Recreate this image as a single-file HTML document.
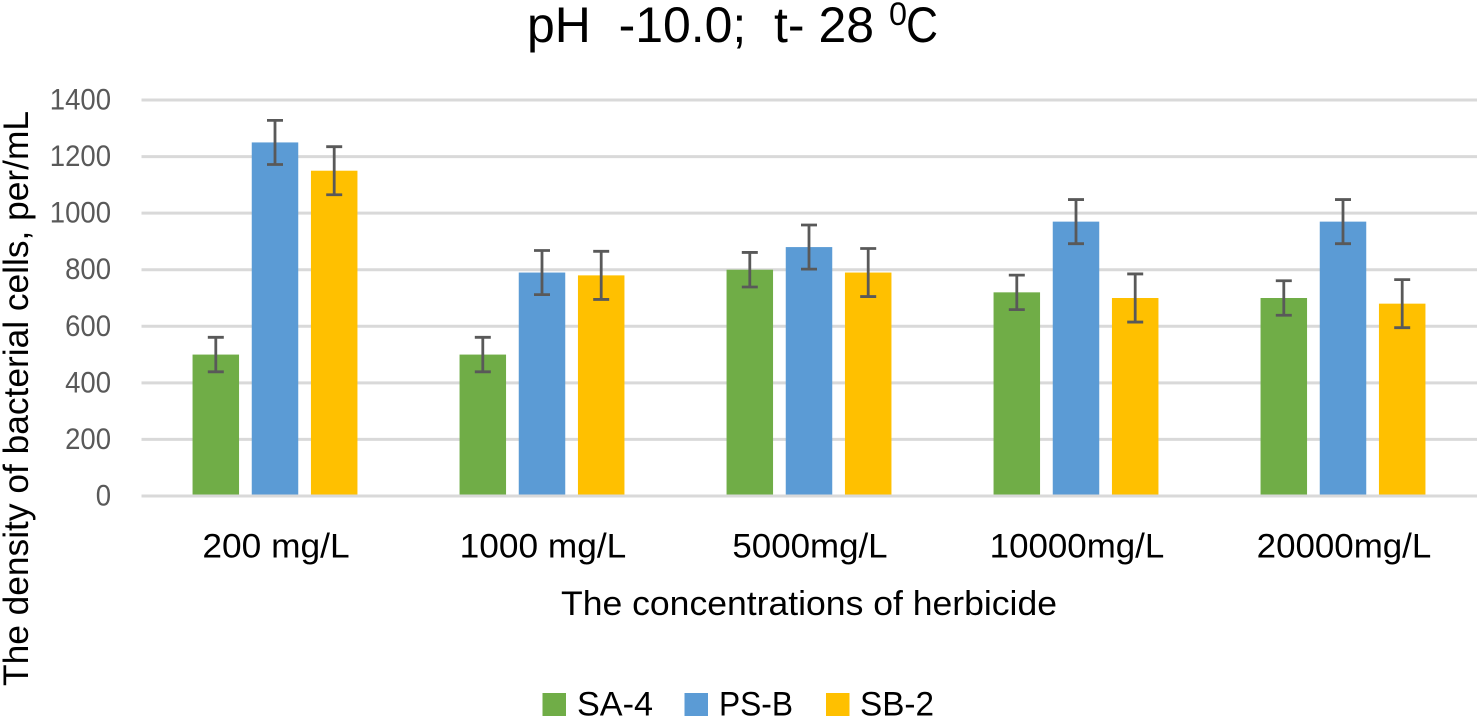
<!DOCTYPE html>
<html>
<head>
<meta charset="utf-8">
<style>
html,body{margin:0;padding:0;background:#fff;width:1479px;height:717px;overflow:hidden}
svg{display:block}
text{font-family:"Liberation Sans",sans-serif;white-space:pre}
</style>
</head>
<body>
<svg id="chart" xmlns="http://www.w3.org/2000/svg" width="1479" height="717" viewBox="0 0 1479 717">
<g id="grid"></g>
<g id="ticks"></g>
<g id="bars"></g>
<g id="errs"></g>
<g id="cats"></g>
<text x="527" y="42" font-size="50" fill="#000" textLength="347" lengthAdjust="spacingAndGlyphs">pH  -10.0;  t- 28</text>
<text x="889" y="25" font-size="32" fill="#000" textLength="18" lengthAdjust="spacingAndGlyphs">0</text>
<text x="906" y="42" font-size="50" fill="#000" textLength="32" lengthAdjust="spacingAndGlyphs">C</text>
<text x="561" y="615" font-size="34" fill="#000" textLength="496" lengthAdjust="spacingAndGlyphs">The concentrations of herbicide</text>
<text transform="translate(28,686) rotate(-90)" x="0" y="0" font-size="35" fill="#000" textLength="575" lengthAdjust="spacingAndGlyphs">The density of bacterial cells, per/mL</text>
<g>
<g>
<rect x="542.5" y="693" width="23.5" height="23" fill="#70AD47"/>
<text x="577" y="715.5" font-size="34" fill="#000" textLength="76" lengthAdjust="spacingAndGlyphs">SA-4</text>
</g>
<g>
<rect x="684.5" y="693" width="23.5" height="23" fill="#5B9BD5"/>
<text x="719" y="715.5" font-size="34" fill="#000" textLength="74" lengthAdjust="spacingAndGlyphs">PS-B</text>
</g>
<g>
<rect x="826" y="693" width="23.5" height="23" fill="#FFC000"/>
<text x="860" y="715.5" font-size="34" fill="#000" textLength="74" lengthAdjust="spacingAndGlyphs">SB-2</text>
</g>
</g>
</svg>
<script>
const categories = ["200 mg/L", "1000 mg/L", "5000mg/L", "10000mg/L", "20000mg/L"];
const seriesNames = ["SA-4", "PS-B", "SB-2"];
const sa4Values = [500, 500, 800, 720, 700];
const psbValues = [1250, 790, 880, 970, 970];
const sb2Values = [1150, 780, 790, 700, 680];
const sa4Errors = [61, 61, 61, 61, 61];
const psbErrors = [78, 78, 78, 78, 78];
const sb2Errors = [85, 85, 85, 85, 85];
const yTicks = [0, 200, 400, 600, 800, 1000, 1200, 1400];

const NS = "http://www.w3.org/2000/svg";
const seriesValues = [sa4Values, psbValues, sb2Values];
const seriesErrors = [sa4Errors, psbErrors, sb2Errors];
const seriesColors = ["#70AD47", "#5B9BD5", "#FFC000"];
const yMax = yTicks[yTicks.length - 1];
const plot = { left: 141.5, right: 1477, top: 100, bottom: 496, firstCenter: 275, step: 267 };
const barW = 46.5, barGap = 59.2, capW = 16;
function yScale(v) { return plot.bottom - (v / yMax) * (plot.bottom - plot.top); }
function xScale(i) { return plot.firstCenter + i * plot.step; }
function make(tag, attrs, parent) {
  const el = document.createElementNS(NS, tag);
  for (const k in attrs) el.setAttribute(k, attrs[k]);
  parent.appendChild(el);
  return el;
}
const gGrid = document.getElementById("grid");
const gTicks = document.getElementById("ticks");
const gBars = document.getElementById("bars");
const gErrs = document.getElementById("errs");
const gCats = document.getElementById("cats");

yTicks.forEach(function (t) {
  const line = make("line", { x1: plot.left, x2: plot.right, y1: yScale(t), y2: yScale(t), stroke: "#D9D9D9", "stroke-width": 3 }, gGrid);
  
  
  const label = make("text", { x: 111, y: yScale(t) + 9.5, "text-anchor": "end", "font-size": 30, fill: "#595959", textLength: 15.3 * String(t).length, lengthAdjust: "spacingAndGlyphs" }, gTicks);
  
  
  label.textContent = String(t);
});

seriesValues.forEach(function (vals, s) {
  vals.forEach(function (v, i) {
    const cx = xScale(i) + (s - 1) * barGap;
    const bar = make("rect", { x: cx - barW / 2, y: yScale(v), width: barW, height: plot.bottom - 1.5 - yScale(v), fill: seriesColors[s] }, gBars);
    
    
    const e = seriesErrors[s][i];
    const hi = yScale(v + e), lo = yScale(v - e);
    const err = make("path", {
      d: "M" + (cx - capW / 2) + " " + hi + "H" + (cx + capW / 2) + "M" + cx + " " + hi + "V" + lo + "M" + (cx - capW / 2) + " " + lo + "H" + (cx + capW / 2),
      fill: "none", stroke: "#595959", "stroke-width": 2.8
    }, gErrs);
    
    
  });
});

categories.forEach(function (c, i) {
  const label = make("text", { x: xScale(i) + 1, y: 557.5, "text-anchor": "middle", "font-size": 34, fill: "#000" }, gCats);
  
  
  label.textContent = c;
  label.setAttribute("textLength", 19.4 * c.length - (c.indexOf(" ") >= 0 ? 8 : 0));
  label.setAttribute("lengthAdjust", "spacingAndGlyphs");
});
</script>
</body>
</html>
